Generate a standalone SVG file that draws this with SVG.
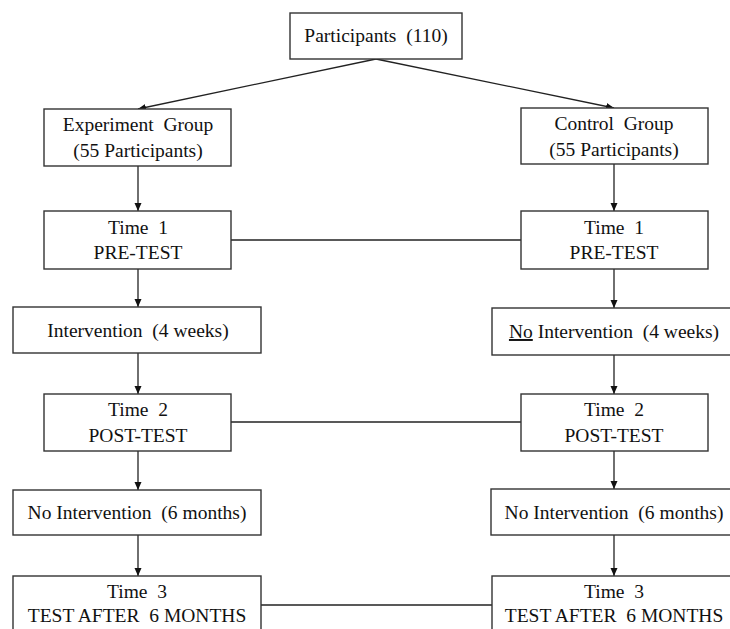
<svg xmlns="http://www.w3.org/2000/svg" width="730" height="629" viewBox="0 0 730 629">
<defs>
<marker id="ah" markerWidth="9" markerHeight="8" refX="8" refY="3.5" orient="auto" markerUnits="userSpaceOnUse">
<path d="M0,0 L8,3.5 L0,7 z" fill="#111"/>
</marker>
<style>
rect{fill:#fff;stroke:#333;stroke-width:1.4}
text{font-family:"Liberation Serif","Times New Roman",serif;font-size:19.5px;fill:#111;text-anchor:middle;white-space:pre}
.c line{stroke:#222;stroke-width:1.3}
.a{marker-end:url(#ah)}
</style>
</defs>
<rect x="0" y="0" width="730" height="629" style="fill:#fff;stroke:none"/>
<g class="c">
<line class="a" x1="376" y1="59" x2="138" y2="109"/>
<line class="a" x1="376" y1="59" x2="614" y2="108"/>
<line class="a" x1="138" y1="166" x2="138" y2="211"/>
<line class="a" x1="138" y1="269" x2="138" y2="307"/>
<line class="a" x1="138" y1="353" x2="138" y2="394"/>
<line class="a" x1="138" y1="451" x2="138" y2="490"/>
<line class="a" x1="138" y1="535" x2="138" y2="576"/>
<line class="a" x1="614" y1="164" x2="614" y2="211"/>
<line class="a" x1="614" y1="269" x2="614" y2="308"/>
<line class="a" x1="614" y1="355" x2="614" y2="394"/>
<line class="a" x1="614" y1="451" x2="614" y2="489"/>
<line class="a" x1="614" y1="535" x2="614" y2="576"/>
<line x1="231" y1="240" x2="521" y2="240"/>
<line x1="231" y1="422" x2="521" y2="422"/>
<line x1="261" y1="605" x2="492" y2="605"/>
</g>
<g id="participants"><rect x="290" y="13" width="172" height="46"/><text x="376" y="42">Participants  (110)</text></g>
<g id="exp-group"><rect x="44" y="109" width="187" height="57"/><text x="138" y="131">Experiment  Group</text><text x="138" y="157">(55 Participants)</text></g>
<g id="ctrl-group"><rect x="521" y="108" width="187" height="56"/><text x="614" y="130">Control  Group</text><text x="614" y="156">(55 Participants)</text></g>
<g id="exp-t1"><rect x="44" y="211" width="187" height="58"/><text x="138" y="234">Time  1</text><text x="138" y="259">PRE-TEST</text></g>
<g id="ctrl-t1"><rect x="521" y="211" width="187" height="58"/><text x="614" y="234">Time  1</text><text x="614" y="259">PRE-TEST</text></g>
<g id="exp-int"><rect x="13" y="307" width="248" height="46"/><text x="138" y="337">Intervention  (4 weeks)</text></g>
<g id="ctrl-int"><rect x="492" y="308" width="245" height="47"/><text x="614" y="338"><tspan text-decoration="underline">No</tspan> Intervention  (4 weeks)</text></g>
<g id="exp-t2"><rect x="44" y="394" width="187" height="57"/><text x="138" y="416">Time  2</text><text x="138" y="442">POST-TEST</text></g>
<g id="ctrl-t2"><rect x="521" y="394" width="187" height="57"/><text x="614" y="416">Time  2</text><text x="614" y="442">POST-TEST</text></g>
<g id="exp-noint"><rect x="13" y="490" width="248" height="45"/><text x="137" y="519">No Intervention  (6 months)</text></g>
<g id="ctrl-noint"><rect x="491" y="489" width="246" height="46"/><text x="614" y="519">No Intervention  (6 months)</text></g>
<g id="exp-t3"><rect x="13" y="576" width="248" height="70"/><text x="137" y="598">Time  3</text><text x="137" y="622">TEST AFTER  6 MONTHS</text></g>
<g id="ctrl-t3"><rect x="492" y="576" width="245" height="70"/><text x="614" y="598">Time  3</text><text x="614" y="622">TEST AFTER  6 MONTHS</text></g>
</svg>
